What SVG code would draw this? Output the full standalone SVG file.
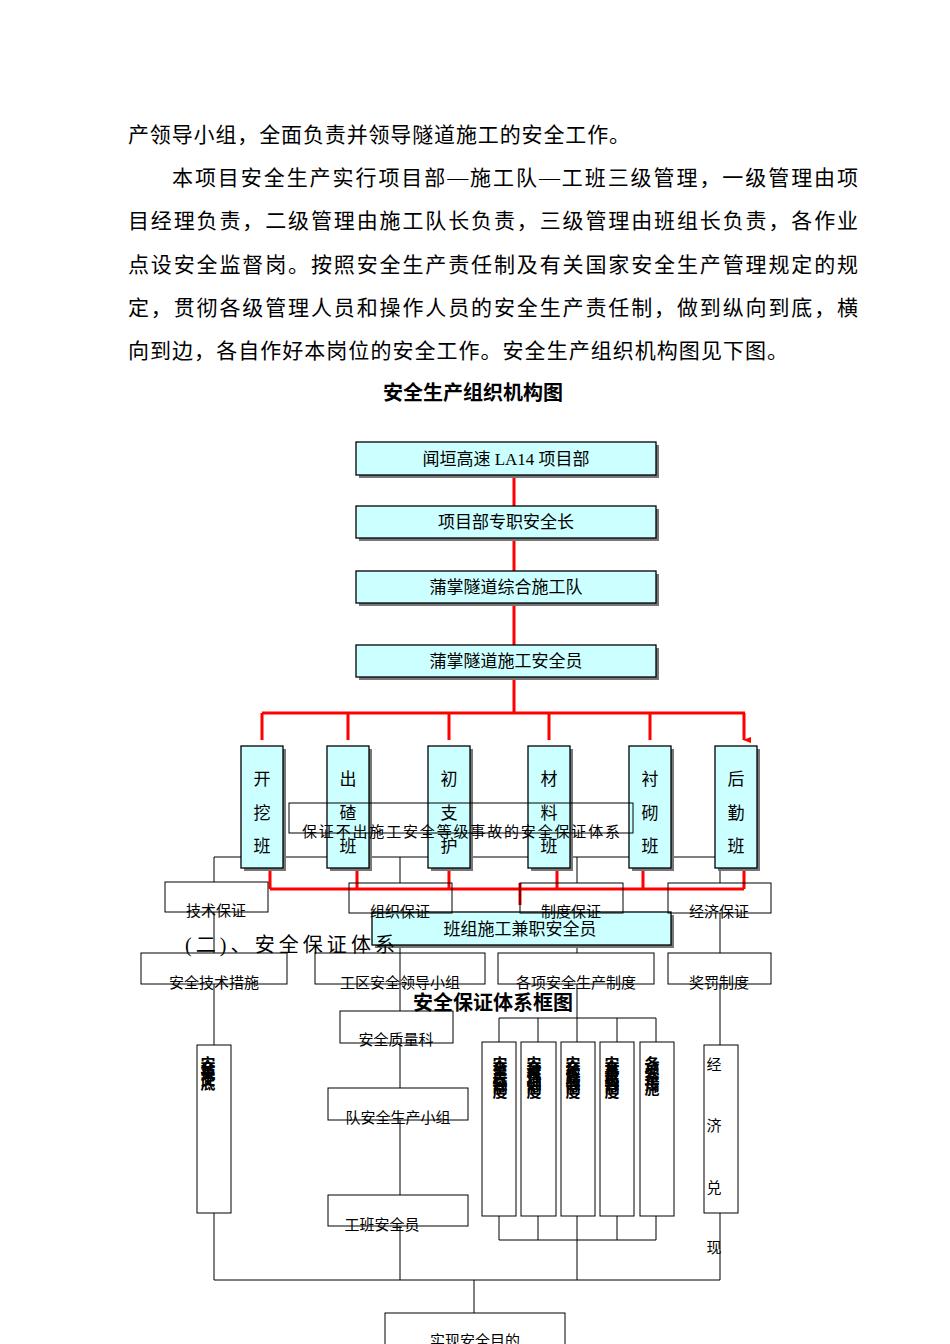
<svg xmlns="http://www.w3.org/2000/svg" width="950" height="1344" viewBox="0 0 950 1344">
<style>
text{font-family:"Liberation Serif","Noto Sans CJK SC",serif;fill:#000}
.p{font-size:21px}
.c{fill:#ccffff;stroke:#000;stroke-width:1.3}
.sh{fill:#777}
.ct{font-size:17px;text-anchor:middle}
.b{fill:none;stroke:#000;stroke-width:1}
.bt{font-size:15px;text-anchor:middle;font-family:"Liberation Sans","Noto Sans CJK SC",sans-serif}
.r{stroke:#f00;stroke-width:3;fill:none}
.k{stroke:#000;stroke-width:1;fill:none}
.v{font-size:15px;font-family:"Liberation Sans","Noto Sans CJK SC",sans-serif;font-weight:bold}
</style>
<defs><marker id="a" markerWidth="6" markerHeight="8" refX="3" refY="7" orient="auto" markerUnits="userSpaceOnUse"><path d="M0,0 L6,0 L3,8 Z" fill="#f00"/></marker></defs>
<rect width="950" height="1344" fill="#fff"/>
<g id="para">
<text class="p" x="128" y="142" textLength="502">产领导小组，全面负责并领导隧道施工的安全工作。</text>
<text class="p" x="172" y="185" textLength="686">本项目安全生产实行项目部—施工队—工班三级管理，一级管理由项</text>
<text class="p" x="128" y="228" textLength="730">目经理负责，二级管理由施工队长负责，三级管理由班组长负责，各作业</text>
<text class="p" x="128" y="272" textLength="730">点设安全监督岗。按照安全生产责任制及有关国家安全生产管理规定的规</text>
<text class="p" x="128" y="315" textLength="730">定，贯彻各级管理人员和操作人员的安全生产责任制，做到纵向到底，横</text>
<text class="p" x="128" y="358" textLength="660">向到边，各自作好本岗位的安全工作。安全生产组织机构图见下图。</text>
<text x="473" y="400" font-size="20" font-weight="bold" text-anchor="middle">安全生产组织机构图</text>
</g>
<g id="connectors">
<path class="r" d="M514,475V712M262,713H745"/>
<path class="r" marker-end="url(#a)" d="M262,713V740M348,713V740M449,713V740M549,713V740M650,713V740M744,713V740"/>
<path class="r" d="M270,868V889M357,868V889M449,868V889M557,868V889M643,868V889M744,868V889M270,889H744M520,883V905"/>
<path class="k" d="M214,857H720M214,857V882M400,857V883M577,857V883M720,857V883"/>
<path class="k" d="M214,912V953M400,913V1011M577,913V953M720,913V953"/>
<path class="k" d="M214,984V1045M214,1213V1280M400,1043V1088M400,1120V1195M400,1226V1280"/>
<path class="k" d="M577,984V1018M499,1018H656M499,1018V1042M538,1018V1042M577,1018V1042M617,1018V1042M656,1018V1042"/>
<path class="k" d="M499,1216V1240M538,1216V1240M577,1216V1240M617,1216V1240M656,1216V1240M499,1240H656M577,1240V1280"/>
<path class="k" d="M720,984V1045M720,1213V1280M214,1280H720M474,1280V1313"/>
</g>
<g id="n1"><rect class="sh" x="359" y="445" width="300" height="33"/><rect class="c" x="356" y="442" width="300" height="33"/><text class="ct" x="506" y="465">闻垣高速 LA14 项目部</text></g>
<g id="n2"><rect class="sh" x="359" y="509" width="300" height="32"/><rect class="c" x="356" y="506" width="300" height="32"/><text class="ct" x="506" y="528">项目部专职安全长</text></g>
<g id="n3"><rect class="sh" x="359" y="574" width="300" height="32"/><rect class="c" x="356" y="571" width="300" height="32"/><text class="ct" x="506" y="593">蒲掌隧道综合施工队</text></g>
<g id="n4"><rect class="sh" x="359" y="648" width="300" height="32"/><rect class="c" x="356" y="645" width="300" height="32"/><text class="ct" x="506" y="667">蒲掌隧道施工安全员</text></g>
<g id="teams">
<g id="t1"><rect class="sh" x="244" y="749" width="42" height="122"/><rect class="c" x="241" y="746" width="42" height="122"/><text class="ct" x="262" y="785">开</text><text class="ct" x="262" y="819">挖</text><text class="ct" x="262" y="852">班</text></g>
<g id="t2"><rect class="sh" x="330" y="749" width="42" height="122"/><rect class="c" x="327" y="746" width="42" height="122"/><text class="ct" x="348" y="785">出</text><text class="ct" x="348" y="819">碴</text><text class="ct" x="348" y="852">班</text></g>
<g id="t3"><rect class="sh" x="431" y="749" width="42" height="122"/><rect class="c" x="428" y="746" width="42" height="122"/><text class="ct" x="449" y="785">初</text><text class="ct" x="449" y="819">支</text><text class="ct" x="449" y="852">护</text></g>
<g id="t4"><rect class="sh" x="531" y="749" width="42" height="122"/><rect class="c" x="528" y="746" width="42" height="122"/><text class="ct" x="549" y="785">材</text><text class="ct" x="549" y="819">料</text><text class="ct" x="549" y="852">班</text></g>
<g id="t5"><rect class="sh" x="632" y="749" width="42" height="122"/><rect class="c" x="629" y="746" width="42" height="122"/><text class="ct" x="650" y="785">衬</text><text class="ct" x="650" y="819">砌</text><text class="ct" x="650" y="852">班</text></g>
<g id="t6"><rect class="sh" x="718" y="749" width="42" height="122"/><rect class="c" x="715" y="746" width="42" height="122"/><text class="ct" x="736" y="785">后</text><text class="ct" x="736" y="819">勤</text><text class="ct" x="736" y="852">班</text></g>
</g>
<g id="n5"><rect class="sh" x="375" y="915" width="299" height="33"/><rect class="c" x="372" y="912" width="299" height="33"/><text class="ct" x="520" y="935">班组施工兼职安全员</text></g>
<g id="s0"><rect class="b" x="289" y="803" width="344" height="30"/><text class="bt" x="461" y="837" textLength="318">保证不出施工安全等级事故的安全保证体系</text></g>
<g id="s1"><rect class="b" x="165" y="882" width="103" height="30"/><text class="bt" x="216" y="916">技术保证</text></g>
<g id="s2"><rect class="b" x="349" y="883" width="103" height="30"/><text class="bt" x="400" y="917">组织保证</text></g>
<g id="s3"><rect class="b" x="520" y="883" width="103" height="30"/><text class="bt" x="571" y="917">制度保证</text></g>
<g id="s4"><rect class="b" x="668" y="883" width="103" height="30"/><text class="bt" x="719" y="917">经济保证</text></g>
<text x="185" y="952" font-size="20" font-family="Liberation Sans,Noto Sans CJK SC,sans-serif" fill="#000" textLength="210">(二)、安全保证体系</text>
<g id="r1"><rect class="b" x="141" y="953" width="146" height="31"/><text class="bt" x="214" y="988">安全技术措施</text></g>
<g id="r2"><rect class="b" x="315" y="953" width="170" height="31"/><text class="bt" x="400" y="988">工区安全领导小组</text></g>
<g id="r3"><rect class="b" x="498" y="953" width="156" height="31"/><text class="bt" x="576" y="988">各项安全生产制度</text></g>
<g id="r4"><rect class="b" x="668" y="953" width="103" height="31"/><text class="bt" x="719" y="988">奖罚制度</text></g>
<text x="493" y="1010" font-size="20" font-weight="bold" text-anchor="middle" font-family="Liberation Sans,Noto Sans CJK SC,sans-serif">安全保证体系框图</text>
<g id="q1"><rect class="b" x="197" y="1045" width="34" height="168"/><text class="v" x="207" y="1056" letter-spacing="-11" writing-mode="tb">安全技术交底</text></g>
<g id="o1"><rect class="b" x="340" y="1011" width="113" height="32"/><text class="bt" x="396" y="1045">安全质量科</text></g>
<g id="o2"><rect class="b" x="328" y="1088" width="140" height="32"/><text class="bt" x="398" y="1123">队安全生产小组</text></g>
<g id="o3"><rect class="b" x="328" y="1195" width="140" height="31"/><text class="bt" x="382" y="1230">工班安全员</text></g>
<g id="z1"><rect class="b" x="482" y="1042" width="34" height="174"/><text class="v" x="499" y="1056" letter-spacing="-11" writing-mode="tb">安全生产责任制度</text></g>
<g id="z2"><rect class="b" x="521" y="1042" width="35" height="174"/><text class="v" x="533" y="1056" letter-spacing="-11" writing-mode="tb">安全教育培训制度</text></g>
<g id="z3"><rect class="b" x="561" y="1042" width="34" height="174"/><text class="v" x="572" y="1056" letter-spacing="-11" writing-mode="tb">安全检查验收制度</text></g>
<g id="z4"><rect class="b" x="600" y="1042" width="34" height="174"/><text class="v" x="611" y="1056" letter-spacing="-11" writing-mode="tb">安全事故报告制度</text></g>
<g id="z5"><rect class="b" x="640" y="1042" width="34" height="174"/><text class="v" x="651" y="1056" letter-spacing="-10" writing-mode="tb">各项安全措施</text></g>
<g id="e1"><rect class="b" x="704" y="1045" width="34" height="168"/><text class="bt" x="714" y="1070">经</text><text class="bt" x="714" y="1131">济</text><text class="bt" x="714" y="1193">兑</text><text class="bt" x="714" y="1253">现</text></g>
<g id="g1"><rect class="b" x="385" y="1313" width="180" height="40"/><text class="bt" x="475" y="1346">实现安全目的</text></g>
</svg>
